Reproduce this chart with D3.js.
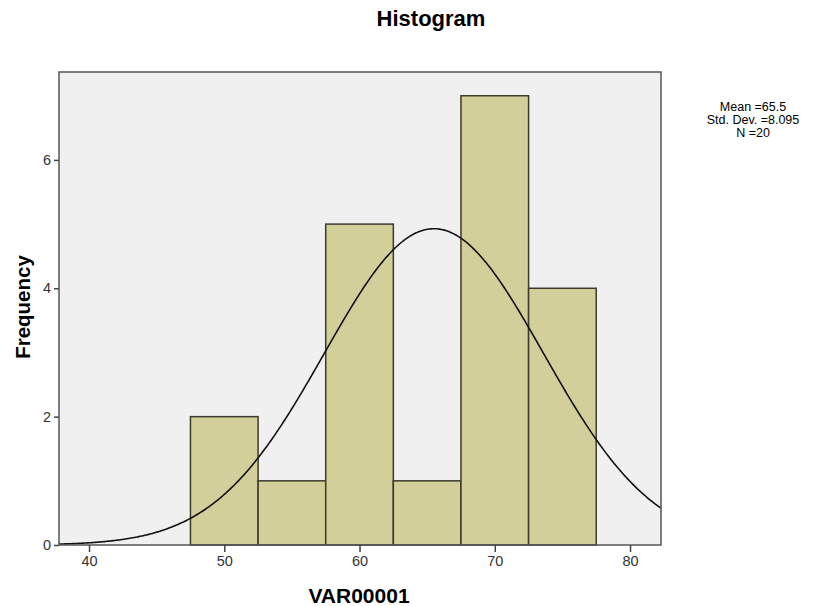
<!DOCTYPE html>
<html>
<head>
<meta charset="utf-8">
<script src="https://cdn.jsdelivr.net/npm/d3@7"></script>
<style>
  body { margin: 0; background: #fff; font-family: "Liberation Sans", Arial, sans-serif; }
</style>
</head>
<body>
<svg id="chart" width="825" height="606"></svg>
<script>
// histogram bins (edges) and counts
const binStarts = [47.5, 52.5, 57.5, 62.5, 67.5, 72.5];
const binWidth = 5;
const counts = [2, 1, 5, 1, 7, 4];
const xTicks = [40, 50, 60, 70, 80];
const yTicks = [0, 2, 4, 6];
const mean = 65.5;
const sd = 8.095;
const n = 20;
const statLines = ["Mean =65.5", "Std. Dev. =8.095", "N =20"];

const margin = { top: 72, right: 164, bottom: 61, left: 59 };
const width = 825 - margin.left - margin.right;
const height = 606 - margin.top - margin.bottom;

const svg = d3.select("#chart");

const x = d3.scaleLinear().domain([37.78, 82.29]).range([0, width]);
const y = d3.scaleLinear().domain([0, 7.37]).range([height, 0]);

const g = svg.append("g").attr("transform", `translate(${margin.left},${margin.top})`);

g.append("rect")
  .attr("width", width)
  .attr("height", height)
  .attr("fill", "#f0f0f0");

g.selectAll(".bar")
  .data(binStarts.map((s, i) => ({ s, c: counts[i] })))
  .enter()
  .append("rect")
  .attr("class", "bar")
  .attr("x", d => x(d.s))
  .attr("y", d => y(d.c))
  .attr("width", d => x(d.s + binWidth) - x(d.s))
  .attr("height", d => height - y(d.c))
  .attr("fill", "#d3cf9b")
  .attr("stroke", "#3b3a2c")
  .attr("stroke-width", 1.5);

// normal curve scaled to counts
const curveData = d3.range(0, 401).map(i => {
  const v = x.domain()[0] + (x.domain()[1] - x.domain()[0]) * i / 400;
  const f = n * binWidth / (sd * Math.sqrt(2 * Math.PI)) * Math.exp(-0.5 * ((v - mean) / sd) ** 2);
  return [v, f];
});

g.append("path")
  .datum(curveData)
  .attr("fill", "none")
  .attr("stroke", "#111")
  .attr("stroke-width", 1.6)
  .attr("d", d3.line().x(d => x(d[0])).y(d => y(d[1])));

g.append("rect")
  .attr("width", width)
  .attr("height", height)
  .attr("fill", "none")
  .attr("stroke", "#555")
  .attr("stroke-width", 1.5);

const xAxis = g.append("g")
  .attr("transform", `translate(0,${height})`)
  .call(d3.axisBottom(x).tickValues(xTicks).tickSize(7).tickPadding(4));
const yAxis = g.append("g")
  .call(d3.axisLeft(y).tickValues(yTicks).tickSize(5).tickPadding(3));

[xAxis, yAxis].forEach(a => {
  a.select(".domain").remove();
  a.selectAll("line").attr("stroke", "#444").attr("stroke-width", 1.5);
  a.selectAll("text")
    .attr("fill", "#333")
    .style("font-size", "14.5px")
    .style("font-family", "Liberation Sans, Arial, sans-serif");
});

svg.append("text")
  .attr("x", 431)
  .attr("y", 26)
  .attr("text-anchor", "middle")
  .style("font-size", "22px")
  .style("font-weight", "bold")
  .text("Histogram");

svg.append("text")
  .attr("x", 359)
  .attr("y", 603)
  .attr("text-anchor", "middle")
  .style("font-size", "21px")
  .style("font-weight", "bold")
  .text("VAR00001");

svg.append("text")
  .attr("transform", "translate(30,307) rotate(-90)")
  .attr("text-anchor", "middle")
  .style("font-size", "20.5px")
  .style("font-weight", "bold")
  .text("Frequency");

svg.append("g")
  .selectAll("text")
  .data(statLines)
  .enter()
  .append("text")
  .attr("x", 753)
  .attr("y", (d, i) => 111 + i * 13)
  .attr("text-anchor", "middle")
  .style("font-size", "12.5px")
  .text(d => d);
</script>
</body>
</html>
